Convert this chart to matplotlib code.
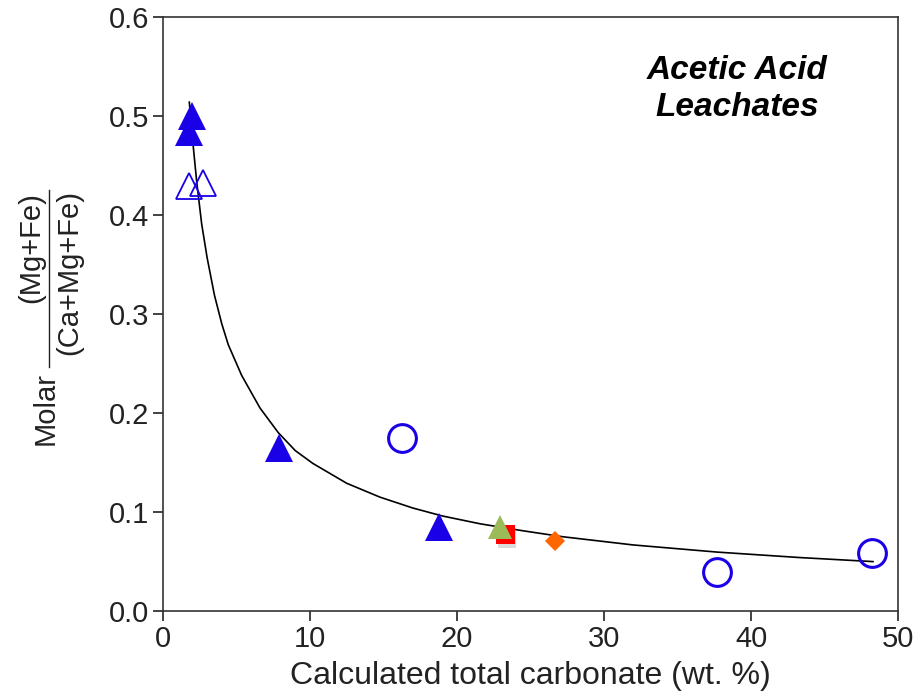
import matplotlib
matplotlib.use("Agg")
import matplotlib.pyplot as plt
import matplotlib.patheffects as pe
from matplotlib.lines import Line2D

plt.rcParams['font.family'] = ['Liberation Sans', 'DejaVu Sans']

# filled blue triangles
tri_fill_x = [1.95, 1.80, 7.88, 18.79]
tri_fill_y = [0.500, 0.484, 0.165, 0.085]
# open blue triangles
tri_open_x = [1.75, 2.72]
tri_open_y = [0.429, 0.432]
# open blue circles
circ_x = [16.26, 37.66, 48.25]
circ_y = [0.175, 0.039, 0.059]
# single points
green_x, green_y = [22.9], [0.085]
red_x, red_y = [23.3], [0.077]
orange_x, orange_y = [26.7], [0.071]

# trend curve
curve_x = [1.79, 2.0, 2.29, 2.63, 3.0, 3.5, 4.0, 4.44, 5.35, 6.6, 7.85, 9.0, 10.2, 12.5,
           14.76, 17.0, 19.0, 21.6, 24.5, 27.2, 32.0, 37.7, 43.3, 48.3]
curve_y = [0.514, 0.478, 0.434, 0.391, 0.357, 0.319, 0.290, 0.269, 0.238, 0.205, 0.180, 0.162,
           0.149, 0.129, 0.115, 0.104, 0.096, 0.088, 0.081, 0.075, 0.0667, 0.0595, 0.054, 0.0499]

xticks = [0, 10, 20, 30, 40, 50]
yticks = [0.0, 0.1, 0.2, 0.3, 0.4, 0.5, 0.6]

W, H = 918, 698
fig = plt.figure(figsize=(W / 100, H / 100), dpi=100)
ax = fig.add_axes([163 / W, 1 - 611 / H, 735 / W, 594 / H])

ax.plot(curve_x, curve_y, color='black', linewidth=1.2, zorder=2)

blue = '#1a00e6'
ax.plot(tri_fill_x, tri_fill_y, linestyle='none', marker='^', markersize=20,
        color=blue, markeredgewidth=0, zorder=3)
ax.plot(tri_open_x, tri_open_y, linestyle='none', marker='^', markersize=19,
        markerfacecolor='none', markeredgecolor=blue, markeredgewidth=1.3, zorder=3)
ax.plot(circ_x, circ_y, linestyle='none', marker='o', markersize=20,
        markerfacecolor='none', markeredgecolor=blue, markeredgewidth=2.2, zorder=3)
ax.plot(red_x, red_y, linestyle='none', marker='s', markersize=13.5,
        color='#ff0000', markeredgewidth=0, zorder=3,
        path_effects=[pe.SimplePatchShadow(offset=(1, -3), shadow_rgbFace='#999999', alpha=0.35), pe.Normal()])
ax.plot(green_x, green_y, linestyle='none', marker='^', markersize=17.5,
        color='#9bbb59', markeredgewidth=0, zorder=4)
ax.plot(orange_x, orange_y, linestyle='none', marker='D', markersize=10.5,
        color='#ff6600', markeredgewidth=0, zorder=3)

ax.set_xlim(0, 50)
ax.set_ylim(0, 0.6)
ax.set_xticks(xticks)
ax.set_yticks(yticks)
ax.set_xticklabels([str(v) for v in xticks])
ax.set_yticklabels([f"{v:.1f}" for v in yticks])
ax.tick_params(direction='out', length=7, width=1.2, labelsize=21, colors='#222222', pad=3)
for s in ax.spines.values():
    s.set_linewidth(1.2)
    s.set_color('#333333')

ax.set_xlabel('Calculated total carbonate (wt. %)', fontsize=23, color='#222222', labelpad=6)

# y label: "Molar" + fraction, built by hand
dx = 6
fig.text((40 + dx) / W, 1 - 408 / H, 'Molar', rotation=90, ha='center', va='center',
         fontsize=21, color='#222222')
fig.text((25 + dx) / W, 1 - 192 / H, '(Mg+Fe)', rotation=90, ha='center', va='top',
         fontsize=21, color='#222222')
fig.text((63 + dx) / W, 1 - 190 / H, '(Ca+Mg+Fe)', rotation=90, ha='center', va='top',
         fontsize=21, color='#222222')
fig.add_artist(Line2D([(43 + dx) / W] * 2, [1 - 190 / H, 1 - 367 / H], color='#222222',
                      linewidth=1.0, transform=fig.transFigure))

ax.text(0.781, 0.879, 'Acetic Acid\nLeachates', transform=ax.transAxes, ha='center', va='center',
        fontsize=24, fontweight='bold', fontstyle='italic', linespacing=1.25)

fig.savefig('out.png', dpi=100)
